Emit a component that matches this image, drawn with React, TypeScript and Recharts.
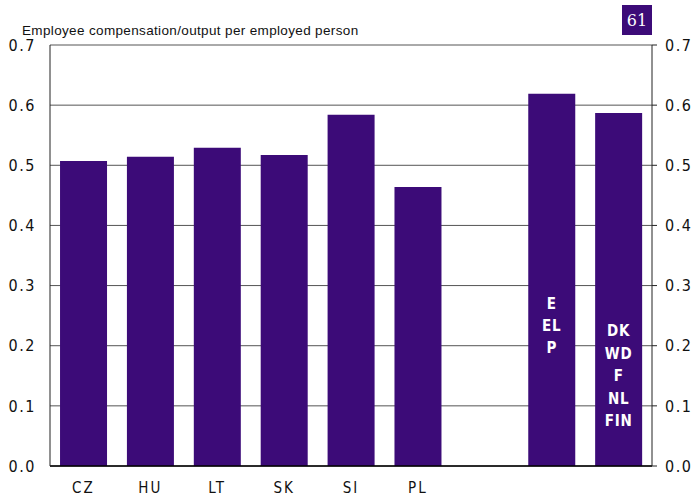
import { ComposedChart, Bar, Line, XAxis, YAxis, CartesianGrid, LabelList } from "recharts"

const categories = ["CZ", "HU", "LT", "SK", "SI", "PL", "", "E/EL/P", "DK/WD/F/NL/FIN"]
const values = [0.507, 0.514, 0.529, 0.517, 0.584, 0.464, null, 0.619, 0.587]
const axisLabels = ["CZ", "HU", "LT", "SK", "SI", "PL", "", "", ""]
const innerLabels: string[][] = [[], [], [], [], [], [], [], ["E", "EL", "P"], ["DK", "WD", "F", "NL", "FIN"]]
const yTicks = [0, 0.1, 0.2, 0.3, 0.4, 0.5, 0.6, 0.7]

const PURPLE = "#3c0b78"
const NARROW = "'Liberation Sans Narrow', 'DejaVu Sans Condensed', 'Liberation Sans', sans-serif"

const data = categories.map((c, i) => ({
  cat: c,
  label: axisLabels[i],
  v: values[i],
}))

// first-line offset above the baseline, per stacked label
const innerTop: Record<string, number> = { "E/EL/P": 157, "DK/WD/F/NL/FIN": 130 }

function InnerLabel(props: any) {
  const { x, y, width, height, value } = props
  const idx = categories.indexOf(value)
  const lines = idx >= 0 ? innerLabels[idx] : []
  if (!lines.length) return null
  const bottom = y + height
  const top = bottom - (innerTop[value] ?? 150)
  const gap = lines.length > 3 ? 22.5 : 22
  return (
    <text
      textAnchor="middle"
      fill="#fff"
      fontFamily={NARROW}
      fontWeight="bold"
      fontSize={15}
      letterSpacing={0.8}
    >
      {lines.map((l, k) => (
        <tspan key={k} x={x + width / 2} y={top + k * gap}>
          {l}
        </tspan>
      ))}
    </text>
  )
}

const fmt = (v: number) => v.toFixed(1)

export default function App() {
  return (
    <div style={{ position: "absolute", left: 0, top: 0, width: 692, height: 497, background: "#fff" }}>
      <ComposedChart
        width={692}
        height={497}
        data={data}
        margin={{ top: 45, right: 0, bottom: 0, left: 0 }}
        barCategoryGap="15%"
      >
        <CartesianGrid stroke="#555" strokeWidth={1} vertical={false} horizontal yAxisId="l" />
        <XAxis
          dataKey="label"
          height={31}
          tickLine={false}
          axisLine={{ stroke: "#000", strokeWidth: 1.5 }}
          interval={0}
          tick={{ fill: "#111", fontSize: 15, fontFamily: NARROW, letterSpacing: 2 }}
          tickMargin={10}
        />
        <YAxis
          yAxisId="l"
          domain={[0, 0.7]}
          ticks={yTicks}
          width={50}
          tickFormatter={fmt}
          tickLine={false}
          axisLine={{ stroke: "#222" }}
          tickMargin={8}
          tick={{ fill: "#111", fontSize: 16, fontFamily: NARROW, letterSpacing: 1.5 }}
          interval={0}
        />
        <YAxis
          yAxisId="r"
          orientation="right"
          domain={[0, 0.7]}
          ticks={yTicks}
          width={40}
          tickFormatter={fmt}
          tickSize={5}
          tickLine={{ stroke: "#222" }}
          axisLine={{ stroke: "#222" }}
          tickMargin={8}
          tick={{ fill: "#111", fontSize: 16, fontFamily: NARROW, letterSpacing: 1.5, textAnchor: "start" }}
          interval={0}
        />
        <Bar dataKey="v" yAxisId="l" fill={PURPLE} isAnimationActive={false}>
          <LabelList dataKey="cat" content={<InnerLabel />} />
        </Bar>
        <Line
          dataKey="v"
          yAxisId="r"
          stroke="none"
          dot={false}
          activeDot={false}
          legendType="none"
          isAnimationActive={false}
        />
        <text x={22} y={35} fontSize={13.5} letterSpacing={0.35} fontFamily="'Liberation Sans', Arial, sans-serif" fill="#111">
          Employee compensation/output per employed person
        </text>
        <rect x={622} y={5} width={30} height={30} fill={PURPLE} />
        <text x={637} y={26} textAnchor="middle" fill="#fff" fontSize={16} fontFamily="'DejaVu Serif', 'Liberation Serif', serif">
          61
        </text>
      </ComposedChart>
    </div>
  )
}
